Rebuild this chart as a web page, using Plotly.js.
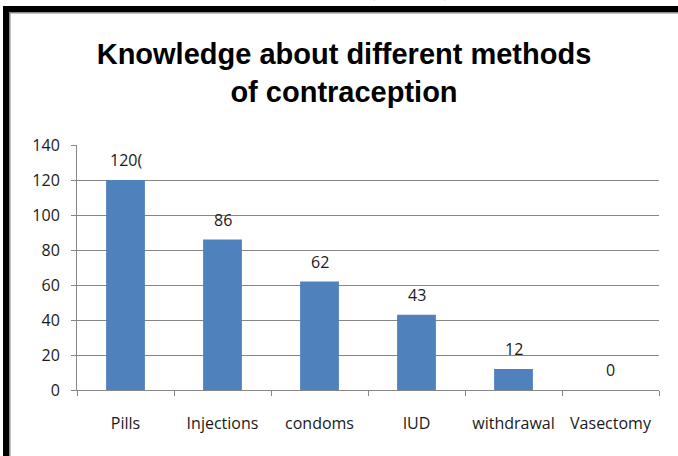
<!DOCTYPE html>
<html>
<head>
<meta charset="utf-8">
<script src="https://cdn.plot.ly/plotly-3.0.1.min.js"></script>
<style>
  html, body { margin: 0; padding: 0; background: #ffffff; }
  #chart { width: 678px; height: 456px; }
</style>
</head>
<body>
<div id="chart"></div>
<script>
// Contraceptive methods known by respondents
const categories = ["Pills", "Injections", "condoms", "IUD", "withdrawal", "Vasectomy"];
const counts = [120, 86, 62, 43, 12, 0];
const countLabels = ["120(", "86", "62", "43", "12", "0"];
const yTickValues = [0, 20, 40, 60, 80, 100, 120, 140];

const W = 678, H = 456;
const M = { l: 77, r: 19, t: 145, b: 66 };
const plotW = W - M.l - M.r;
const plotH = H - M.t - M.b;

// convert page pixels to paper coordinates (for frame decorations)
const px = x => (x - M.l) / plotW;
const py = y => (H - M.b - y) / plotH;

const textFont = { family: "Open Sans, Liberation Sans, sans-serif", size: 16, color: "#1a1a1a" };
const gridGray = "#868686";

const trace = {
  type: "bar",
  x: categories,
  y: counts,
  marker: { color: "#4F81BD", line: { width: 0 } },
  hoverinfo: "skip"
};

const valueNotes = categories.map((c, i) => ({
  x: c, y: counts[i], xref: "x", yref: "y",
  text: countLabels[i], showarrow: false,
  yanchor: "bottom", yshift: 7,
  font: textFont
}));

// caption line of the surrounding page, mostly above the frame
const caption = {
  xref: "paper", yref: "paper",
  x: px(238), y: py(3),
  xanchor: "left", yanchor: "bottom",
  text: "population (n=120)", showarrow: false,
  font: { family: "Liberation Serif, serif", size: 26, color: "#000", weight: "bold" }
};

const frame = [
  // black outer frame (top and left edges)
  { type: "rect", xref: "paper", yref: "paper", x0: px(3), x1: px(W + 5), y0: py(12), y1: py(6),
    fillcolor: "#000", line: { width: 0 }, layer: "above" },
  { type: "rect", xref: "paper", yref: "paper", x0: px(3), x1: px(9), y0: py(H + 5), y1: py(6),
    fillcolor: "#000", line: { width: 0 }, layer: "above" },
  // thin grey inner edge
  { type: "rect", xref: "paper", yref: "paper", x0: px(9), x1: px(W + 5), y0: py(13.5), y1: py(12),
    fillcolor: "#8a8a8a", line: { width: 0 }, layer: "above" },
  { type: "rect", xref: "paper", yref: "paper", x0: px(9), x1: px(10.5), y0: py(H + 5), y1: py(12),
    fillcolor: "#8a8a8a", line: { width: 0 }, layer: "above" }
];

const layout = {
  width: W, height: H,
  margin: M,
  paper_bgcolor: "#ffffff",
  plot_bgcolor: "#ffffff",
  showlegend: false,
  bargap: 0.6,
  title: {
    text: "Knowledge about different methods<br>of contraception",
    xref: "container", x: 344 / W, xanchor: "center",
    yref: "container", y: 1 - 64 / H, yanchor: "top",
    font: { family: "Liberation Sans, sans-serif", size: 29, color: "#000", weight: "bold" }
  },
  xaxis: {
    type: "category",
    showline: true, linecolor: gridGray, linewidth: 1,
    ticks: "outside", tickson: "boundaries", ticklen: 5, tickcolor: gridGray, tickwidth: 1,
    ticklabelstandoff: 19,
    showgrid: false, zeroline: false,
    tickfont: textFont
  },
  yaxis: {
    range: [0, 140],
    tickvals: yTickValues,
    ticktext: yTickValues.map(String),
    showline: true, linecolor: gridGray, linewidth: 1,
    ticks: "outside", ticklen: 5, tickcolor: gridGray, tickwidth: 1,
    ticklabelstandoff: 8,
    showgrid: true, gridcolor: gridGray, gridwidth: 1,
    zeroline: false,
    tickfont: textFont
  },
  annotations: valueNotes.concat([caption]),
  shapes: frame
};

Plotly.newPlot("chart", [trace], layout, { displayModeBar: false, staticPlot: true });
</script>
</body>
</html>
